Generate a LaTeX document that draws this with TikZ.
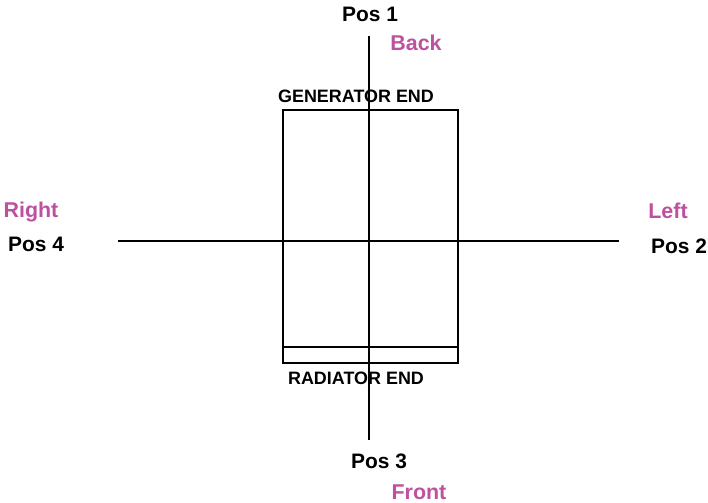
\documentclass[tikz,border=0pt]{standalone}
\usepackage{fontspec}
\setmainfont{Liberation Sans}
\definecolor{sidepink}{RGB}{190,80,160}

\begin{document}
\begin{tikzpicture}[x=1bp,y=-1bp,line width=1.4bp,
  poslabel/.style={font=\fontsize{21}{24}\selectfont\bfseries,anchor=base,inner sep=0pt},
  sidelabel/.style={font=\fontsize{21.5}{24}\selectfont\bfseries,anchor=base,inner sep=0pt,text=sidepink},
  endlabel/.style={font=\fontsize{18}{20}\selectfont\bfseries,anchor=base,inner sep=0pt}]
 \useasboundingbox (0,0) rectangle (708,503);
 % axes
 \coordinate (top) at (369,36);
 \coordinate (bottom) at (369,440);
 \coordinate (west) at (118,241);
 \coordinate (east) at (619,241);
 \draw (top) -- (bottom) ;
 \draw (west) -- (east) ;
 % engine outline
 \draw (283,110) rectangle (458,363) ;
 \draw (283,347) -- (458,347) ;
 \node[endlabel] (gen) at (356,103) {GENERATOR END};
 \node[endlabel] (rad) at (356,384) {RADIATOR END};
%
 \node[poslabel] (pos1) at (370,22) {Pos 1};
 \node[sidelabel] (back) at (416,51) {Back};
 \node[poslabel] (pos2) at (679,254) {Pos 2};
 \node[sidelabel] (left) at (668,219) {Left};
 \node[poslabel] (pos3) at (379,468) {Pos 3};
 \node[sidelabel] (front) at (419,499) {Front};
 \node[poslabel] (pos4) at (36,252) {Pos 4};
 \node[sidelabel] (right) at (31,218) {Right};
\end{tikzpicture}
\end{document}
